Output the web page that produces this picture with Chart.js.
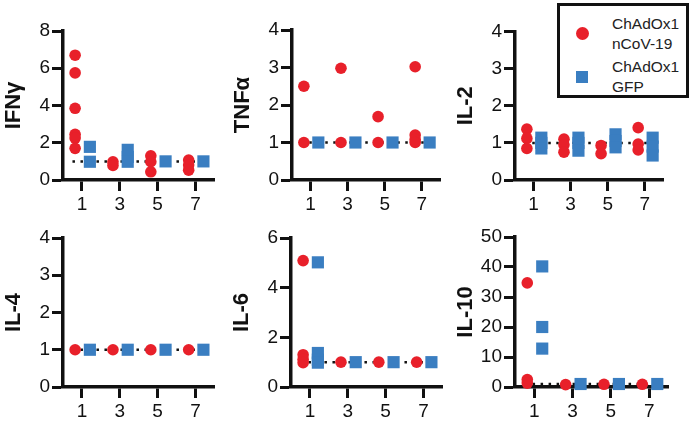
<!DOCTYPE html>
<html lang="en">
<head>
<meta charset="UTF-8">
<title>Cytokines</title>
<script src="https://cdn.jsdelivr.net/npm/chart.js@4"></script>
<style>
  body { margin: 0; background: #fff; }
  #wrap { position: relative; width: 694px; height: 427px; overflow: hidden; background: #fff; }
  #wrap canvas { position: absolute; }
  #legend {
    position: absolute; left: 557px; top: 3px; width: 132px; height: 95px;
    box-sizing: border-box; border: 3px solid #111; background: #fff;
    font-family: 'Liberation Sans', Arial, sans-serif; font-size: 15.5px; color: #222;
  }
  #legend .mark { position: absolute; }
  #legend .txt { position: absolute; left: 52px; line-height: 20px; }
</style>
</head>
<body>
<div id="wrap">
  <div id="legend"></div>
</div>
<script>
const days = [1, 3, 5, 7]
const groups = [['ChAdOx1', 'nCoV-19'], ['ChAdOx1', 'GFP']]
const red = '#E8202A'
const blue = '#3A7EC1'

// values per day (1, 3, 5, 7), one list per day
const ifngNcov = [[6.7, 5.75, 3.85, 2.45, 2.25, 1.7], [0.98, 0.78], [1.3, 0.98, 0.44], [1.07, 0.8, 0.53]]
const ifngGfp = [[1.78, 0.98], [1.62, 1.24, 0.98], [1.0], [1.0]]
const tnfNcov = [[2.5, 1.0], [2.98, 1.0], [1.69, 1.0], [3.02, 1.2, 1.08, 1.0]]
const tnfGfp = [[1.0], [1.0], [1.0], [1.0]]
const il2Ncov = [[1.37, 1.12, 0.85], [1.1, 0.95, 0.75], [0.93, 0.71], [1.41, 0.97, 0.81]]
const il2Gfp = [[1.14, 1.0, 0.85], [1.14, 1.0, 0.79], [1.23, 1.05, 0.88], [1.14, 0.9, 0.66]]
const il4Ncov = [[1.0], [1.0], [1.0], [1.0]]
const il4Gfp = [[1.0], [1.0], [1.0], [1.0]]
const il6Ncov = [[5.09, 1.3, 1.12, 0.98], [1.0], [1.0], [1.0]]
const il6Gfp = [[5.02, 1.37, 1.1, 0.98], [1.0], [1.0], [1.0]]
const il10Ncov = [[34.7, 2.5, 1.3], [0.8], [0.9], [0.9]]
const il10Gfp = [[40.2, 20.0, 12.8], [1.0], [1.0], [1.0]]
const baseline = 1

const panels = [
  { title: 'IFNγ', ncov: ifngNcov, gfp: ifngGfp, max: 8, step: 2, axisX: 62.5, top: 0, areaTop: 31, areaBottom: 180, areaRight: 215 },
  { title: 'TNFα', ncov: tnfNcov, gfp: tnfGfp, max: 4, step: 1, axisX: 292, top: 0, areaTop: 30, areaBottom: 180, areaRight: 441 },
  { title: 'IL-2', ncov: il2Ncov, gfp: il2Gfp, max: 4, step: 1, axisX: 515, top: 0, areaTop: 31.5, areaBottom: 180, areaRight: 664 },
  { title: 'IL-4', ncov: il4Ncov, gfp: il4Gfp, max: 4, step: 1, axisX: 63, top: 213, areaTop: 238, areaBottom: 387, areaRight: 215 },
  { title: 'IL-6', ncov: il6Ncov, gfp: il6Gfp, max: 6, step: 2, axisX: 291, top: 213, areaTop: 238, areaBottom: 387, areaRight: 443 },
  { title: 'IL-10', ncov: il10Ncov, gfp: il10Gfp, max: 50, step: 10, axisX: 515, top: 213, areaTop: 237, areaBottom: 387, areaRight: 669 },
]

Chart.defaults.font.family = "'Liberation Sans', Arial, sans-serif"
Chart.defaults.color = '#111'

const yAxisWidth = 62
const xAxisHeight = 30
const wrap = document.getElementById('wrap')

function points(lists, shift) {
  return lists.flatMap((vals, i) => vals.map(v => ({ x: days[i] + shift, y: v })))
}

panels.forEach(p => {
  const canvas = document.createElement('canvas')
  const left = Math.round(p.axisX - yAxisWidth)
  const width = Math.round(p.areaRight - left + 8)
  const height = 213
  canvas.width = width
  canvas.height = height
  canvas.style.left = left + 'px'
  canvas.style.top = p.top + 'px'
  wrap.insertBefore(canvas, document.getElementById('legend'))

  new Chart(canvas, {
    type: 'scatter',
    data: {
      datasets: [
        {
          data: points(p.ncov, -0.36),
          pointStyle: 'circle', pointRadius: 5.8, pointHoverRadius: 5.8,
          backgroundColor: red, borderWidth: 0, clip: false, order: 1,
        },
        {
          data: points(p.gfp, 0.42),
          pointStyle: 'rect', pointRadius: 8.6, pointHoverRadius: 8.6,
          backgroundColor: blue, borderWidth: 0, clip: false, order: 2,
        },
        {
          data: [{ x: 0.5, y: baseline }, { x: 7.7, y: baseline }],
          showLine: true, pointRadius: 0, borderColor: '#111', borderWidth: 2.5,
          borderDash: [2.5, 5.5], clip: false, order: 3,
        },
      ],
    },
    options: {
      responsive: false,
      animation: false,
      layout: {
        padding: {
          left: 0,
          right: width - (p.areaRight - left),
          top: p.areaTop - p.top,
          bottom: height - (p.areaBottom - p.top) - xAxisHeight,
        },
      },
      plugins: { legend: { display: false }, tooltip: { enabled: false } },
      scales: {
        x: {
          type: 'linear', min: 0, max: 8,
          afterBuildTicks: s => { s.ticks = days.map(v => ({ value: v })) },
          afterFit: s => { s.height = xAxisHeight },
          ticks: { font: { size: 19 }, padding: 2, color: '#111' },
          grid: { drawOnChartArea: false, drawTicks: true, tickLength: 11, tickWidth: 3, tickColor: '#111' },
          border: { display: true, color: '#111', width: 3.5 },
        },
        y: {
          min: 0, max: p.max,
          afterFit: s => { s.width = yAxisWidth },
          ticks: { stepSize: p.step, font: { size: 19 }, padding: 2, color: '#111' },
          grid: { drawOnChartArea: false, drawTicks: true, tickLength: 11, tickWidth: 3, tickColor: '#111' },
          border: { display: true, color: '#111', width: 3.5 },
          title: { display: true, text: p.title, font: { size: 22, weight: 'bold' }, color: '#111', padding: 0 },
        },
      },
    },
  })
})

// legend box
const legend = document.getElementById('legend')
const marks = [
  { color: red, radius: '50%', size: 13, top: 21 },
  { color: blue, radius: '0', size: 12, top: 65 },
]
groups.forEach((lines, i) => {
  const m = document.createElement('span')
  m.className = 'mark'
  m.style.cssText = `left:16px;top:${marks[i].top}px;width:${marks[i].size}px;height:${marks[i].size}px;background:${marks[i].color};border-radius:${marks[i].radius}`
  legend.appendChild(m)
  const t = document.createElement('div')
  t.className = 'txt'
  t.style.top = (i === 0 ? 8 : 51) + 'px'
  t.innerHTML = lines.join('<br>')
  legend.appendChild(t)
})
</script>
</body>
</html>
